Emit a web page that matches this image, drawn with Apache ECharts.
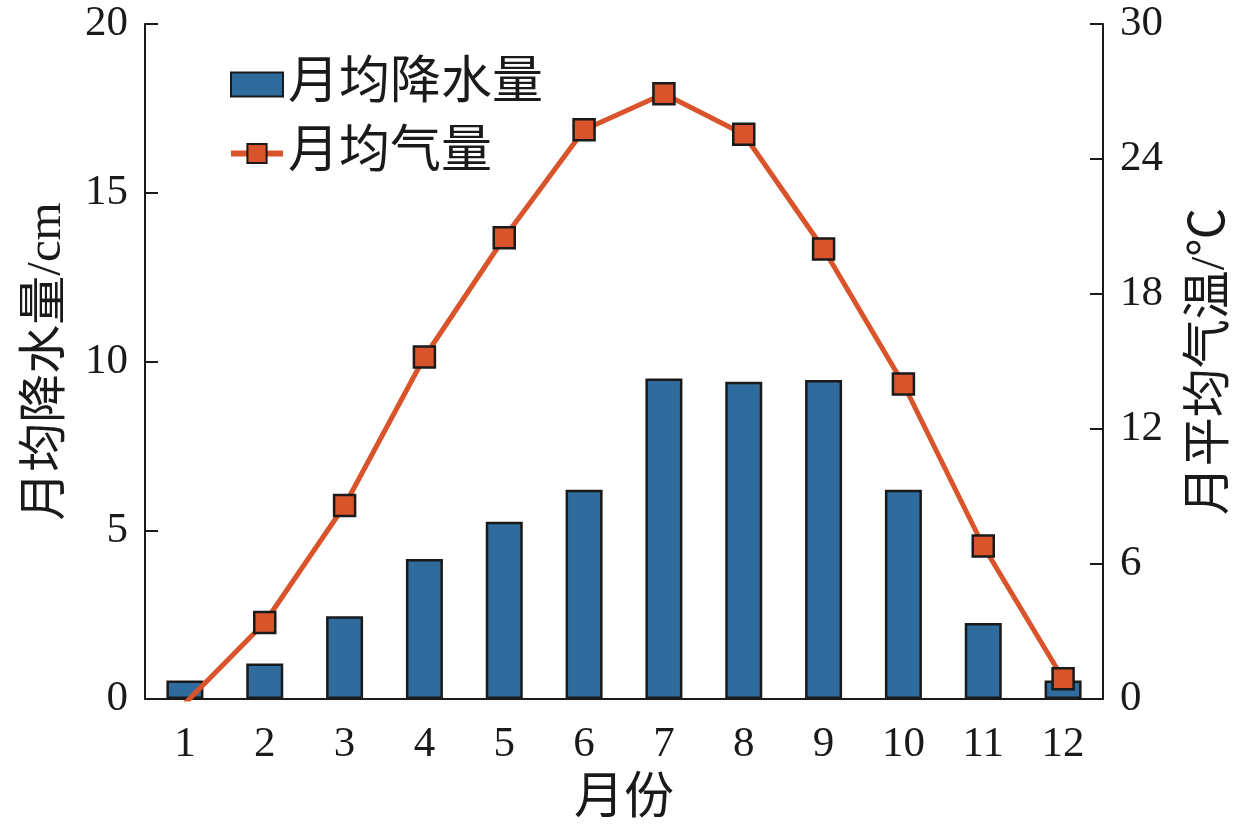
<!DOCTYPE html>
<html>
<head>
<meta charset="utf-8">
<script src="https://cdn.jsdelivr.net/npm/echarts@6/dist/echarts.min.js"></script>
<style>
  html, body { margin: 0; padding: 0; background: #fff; }
  #chart { width: 1253px; height: 834px; }
</style>
</head>
<body>
<div id="chart"></div>
<script>
const months = ['1', '2', '3', '4', '5', '6', '7', '8', '9', '10', '11', '12'];
const rainfall = [0.55, 1.05, 2.45, 4.15, 5.25, 6.2, 9.5, 9.4, 9.45, 6.2, 2.25, 0.55];
const temperature = [-0.2, 3.4, 8.6, 15.2, 20.5, 25.3, 26.9, 25.1, 20.0, 14.0, 6.8, 0.9];

const fontFamily = "'Liberation Serif', 'Noto Sans CJK SC', serif";
const ink = '#1a1a1a';
const barColor = '#2f6b9c';
const lineColor = '#d9542b';

const chart = echarts.init(document.getElementById('chart'));

const axisText = { color: ink, fontSize: 43, fontFamily: fontFamily };

chart.setOption({
  backgroundColor: '#fff',
  animation: false,
  textStyle: { fontFamily: fontFamily },
  grid: { left: 145, right: 150, top: 24, bottom: 135 },
  legend: {
    orient: 'vertical',
    left: 223,
    top: 54,
    itemWidth: 52,
    itemHeight: 24,
    itemGap: 18,
    textStyle: { color: ink, fontSize: 51, fontFamily: fontFamily },
    data: [
      { name: '月均降水量', icon: 'rect' },
      { name: '月均气量', lineStyle: { width: 6 } }
    ]
  },
  xAxis: {
    type: 'category',
    data: months,
    boundaryGap: true,
    name: '月份',
    nameLocation: 'middle',
    nameGap: 76,
    nameTextStyle: { color: ink, fontSize: 50, fontFamily: fontFamily },
    axisLine: { lineStyle: { color: ink, width: 2 } },
    axisTick: { show: false },
    axisLabel: Object.assign({ margin: 24 }, axisText),
    splitLine: { show: false }
  },
  yAxis: [
    {
      type: 'value',
      min: 0,
      max: 20,
      interval: 5,
      name: '月均降水量/cm',
      nameLocation: 'middle',
      nameRotate: 90,
      nameGap: 73,
      nameTextStyle: { color: ink, fontSize: 49, fontFamily: fontFamily },
      axisLine: { show: true, lineStyle: { color: ink, width: 2 } },
      axisTick: { show: true, inside: true, length: 13, lineStyle: { color: ink, width: 2 } },
      axisLabel: Object.assign({ margin: 17 }, axisText),
      splitLine: { show: false }
    },
    {
      type: 'value',
      min: 0,
      max: 30,
      interval: 6,
      position: 'right',
      name: '月平均气温/℃',
      nameLocation: 'middle',
      nameRotate: 90,
      nameGap: 84,
      nameTextStyle: { color: ink, fontSize: 49, fontFamily: fontFamily },
      axisLine: { show: true, lineStyle: { color: ink, width: 2 } },
      axisTick: { show: true, inside: true, length: 13, lineStyle: { color: ink, width: 2 } },
      axisLabel: Object.assign({ margin: 17 }, axisText),
      splitLine: { show: false }
    }
  ],
  series: [
    {
      name: '月均降水量',
      type: 'bar',
      data: rainfall,
      barWidth: 37,
      itemStyle: { color: barColor, borderColor: ink, borderWidth: 2.5 }
    },
    {
      name: '月均气量',
      type: 'line',
      yAxisIndex: 1,
      data: temperature,
      symbol: 'rect',
      symbolSize: 21,
      lineStyle: { color: lineColor, width: 5 },
      itemStyle: { color: lineColor, borderColor: ink, borderWidth: 2.5 },
      z: 5
    }
  ]
});
</script>
</body>
</html>
